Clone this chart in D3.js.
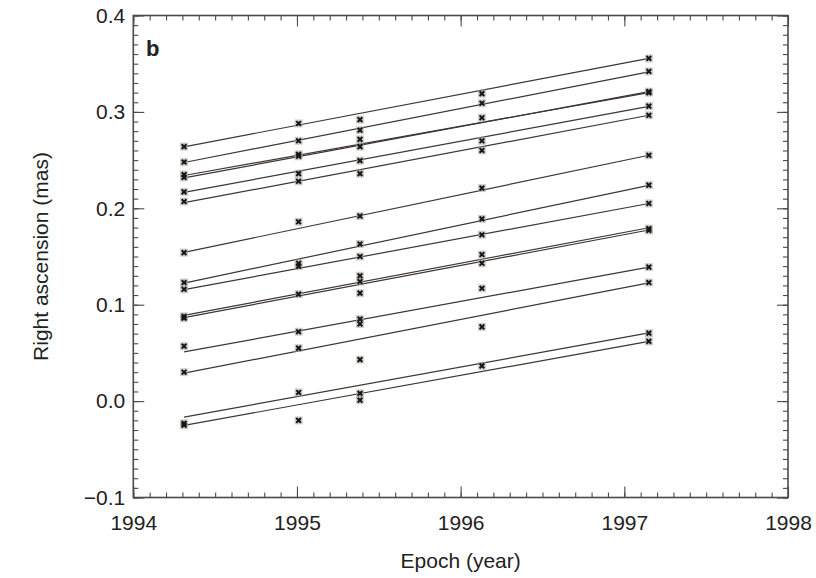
<!DOCTYPE html>
<html>
<head>
<meta charset="utf-8">
<script src="https://cdn.jsdelivr.net/npm/d3@7"></script>
<style>
  html, body { margin: 0; padding: 0; background: #fff; }
  svg { display: block; }
  text { font-family: "Liberation Sans", Arial, Helvetica, sans-serif; fill: #222; }
</style>
</head>
<body>
<svg id="chart" width="816" height="578"></svg>
<script>
// Observation epochs (decimal year)
const epochs = [1994.31, 1995.01, 1995.385, 1996.13, 1997.15];

// Measured right-ascension offsets (mas) at each epoch
const obsEpoch1 = [0.264, 0.248, 0.235, 0.232, 0.217, 0.207, 0.154, 0.123, 0.116, 0.088, 0.086, 0.057, 0.030, -0.023, -0.025];
const obsEpoch2 = [0.288, 0.270, 0.256, 0.254, 0.236, 0.228, 0.186, 0.143, 0.140, 0.111, 0.072, 0.055, 0.009, -0.020];
const obsEpoch3 = [0.292, 0.281, 0.2715, 0.264, 0.2495, 0.236, 0.192, 0.163, 0.150, 0.130, 0.124, 0.112, 0.085, 0.080, 0.043, 0.008, 0.001];
const obsEpoch4 = [0.319, 0.309, 0.294, 0.270, 0.260, 0.221, 0.189, 0.1725, 0.152, 0.143, 0.117, 0.077, 0.0365];
const obsEpoch5 = [0.3555, 0.342, 0.321, 0.320, 0.306, 0.2965, 0.255, 0.224, 0.205, 0.179, 0.177, 0.139, 0.123, 0.0705, 0.062];

// Linear proper-motion fits: value at first and last epoch (mas)
const fitStart = [0.2638, 0.2475, 0.234, 0.2315, 0.2165, 0.2058, 0.1543, 0.1224, 0.1156, 0.0889, 0.0866, 0.051, 0.029, -0.0166, -0.0252];
const fitEnd   = [0.3555, 0.3416, 0.320, 0.321, 0.3058, 0.2965, 0.255, 0.2238, 0.205, 0.1798, 0.1775, 0.139, 0.1227, 0.0708, 0.062];

// Axis ticks
const xMajorTicks = [1994, 1995, 1996, 1997, 1998];
const yMajorTicks = [-0.1, 0.0, 0.1, 0.2, 0.3, 0.4];

const svg = d3.select("#chart");
const plotLeft = 133.3, plotRight = 788, plotTop = 15.5, plotBottom = 497.5;

const x = d3.scaleLinear().domain([1994, 1998]).range([plotLeft, plotRight]);
const y = d3.scaleLinear().domain([-0.1, 0.4]).range([plotBottom, plotTop]);

const xMinor = d3.range(1994, 1998.0001, 0.1).map(v => +v.toFixed(1));
const yMinor = d3.range(-0.1, 0.4001, 0.01).map(v => +v.toFixed(2));

const frameColor = "#4f4945";
const fmtY = d3.format(".1f");

function styleAxis(g) {
  g.select(".domain").remove();
  g.selectAll(".tick line").attr("stroke", frameColor).attr("stroke-width", 1.1);
  g.selectAll(".tick text")
    .style("font-family", '"Liberation Sans", Arial, sans-serif')
    .style("font-size", "21px")
    .attr("fill", "#2a2624");
}

// Minor ticks (inside on all four sides)
svg.append("g").attr("transform", `translate(${plotLeft},0)`)
  .call(d3.axisLeft(y).tickValues(yMinor).tickSize(-5).tickFormat(""))
  .call(styleAxis);
svg.append("g").attr("transform", `translate(${plotRight},0)`)
  .call(d3.axisRight(y).tickValues(yMinor).tickSize(-5).tickFormat(""))
  .call(styleAxis);
svg.append("g").attr("transform", `translate(0,${plotTop})`)
  .call(d3.axisTop(x).tickValues(xMinor).tickSize(-5).tickFormat(""))
  .call(styleAxis);
svg.append("g").attr("transform", `translate(0,${plotBottom})`)
  .call(d3.axisBottom(x).tickValues(xMinor).tickSize(-5).tickFormat(""))
  .call(styleAxis);

// Major ticks with labels on left and bottom
svg.append("g").attr("transform", `translate(${plotLeft},0)`)
  .call(d3.axisLeft(y).tickValues(yMajorTicks).tickSize(-11).tickPadding(8).tickFormat(fmtY))
  .call(styleAxis);
svg.append("g").attr("transform", `translate(${plotRight},0)`)
  .call(d3.axisRight(y).tickValues(yMajorTicks).tickSize(-11).tickFormat(""))
  .call(styleAxis);
svg.append("g").attr("transform", `translate(0,${plotTop})`)
  .call(d3.axisTop(x).tickValues(xMajorTicks).tickSize(-11).tickFormat(""))
  .call(styleAxis);
svg.append("g").attr("transform", `translate(0,${plotBottom})`)
  .call(d3.axisBottom(x).tickValues(xMajorTicks).tickSize(-11).tickPadding(18).tickFormat(d3.format("d")))
  .call(styleAxis);

// Plot frame
svg.append("rect")
  .attr("x", plotLeft).attr("y", plotTop)
  .attr("width", plotRight - plotLeft).attr("height", plotBottom - plotTop)
  .attr("fill", "none").attr("stroke", frameColor).attr("stroke-width", 1.6);

// Fitted lines
const t0 = epochs[0], t1 = epochs[epochs.length - 1];
svg.append("g").selectAll("line")
  .data(fitStart.map((s, i) => ({ s, e: fitEnd[i] })))
  .join("line")
  .attr("x1", x(t0)).attr("x2", x(t1))
  .attr("y1", d => y(d.s)).attr("y2", d => y(d.e))
  .attr("stroke", "#3e3632").attr("stroke-width", 1.2);

// Observations: small crosses on a soft grey square
const obs = [obsEpoch1, obsEpoch2, obsEpoch3, obsEpoch4, obsEpoch5]
  .flatMap((vals, i) => vals.map(v => ({ t: epochs[i], v })));
const marker = d3.symbol().type(d3.symbolX).size(16);
const mg = svg.append("g");
mg.selectAll("rect")
  .data(obs).join("rect")
  .attr("x", d => x(d.t) - 4).attr("y", d => y(d.v) - 4)
  .attr("width", 8).attr("height", 8)
  .attr("fill", "#a9a5a1").attr("opacity", 0.55);
mg.selectAll("path")
  .data(obs).join("path")
  .attr("transform", d => `translate(${x(d.t)},${y(d.v)})`)
  .attr("d", marker)
  .attr("fill", "none").attr("stroke", "#181614").attr("stroke-width", 2);

// Panel letter
svg.append("text")
  .attr("x", 146).attr("y", 56)
  .style("font-size", "22px").style("font-weight", "bold")
  .text("b");

// Axis titles
svg.append("text")
  .attr("x", (plotLeft + plotRight) / 2).attr("y", 568)
  .attr("text-anchor", "middle")
  .style("font-size", "21px")
  .text("Epoch (year)");
svg.append("text")
  .attr("transform", `translate(48,${(plotTop + plotBottom) / 2}) rotate(-90)`)
  .attr("text-anchor", "middle")
  .style("font-size", "21px")
  .text("Right ascension (mas)");
</script>
</body>
</html>
